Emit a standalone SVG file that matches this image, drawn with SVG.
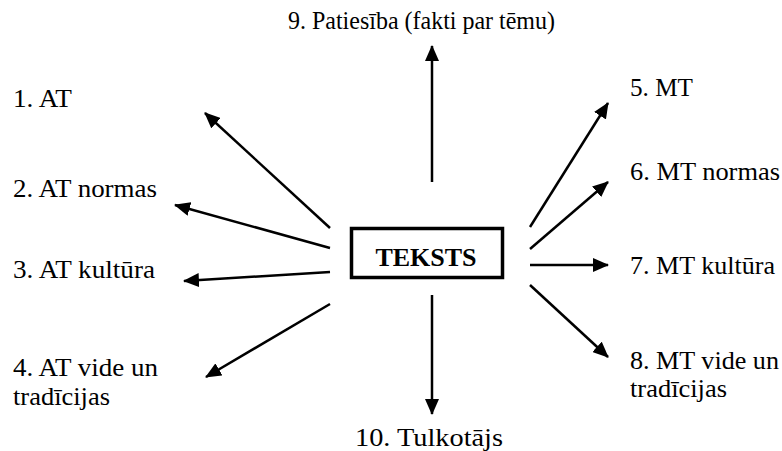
<svg xmlns="http://www.w3.org/2000/svg" width="782" height="451" viewBox="0 0 782 451">
<defs>
<marker id="ah" viewBox="0 0 16 14" refX="15" refY="7" markerWidth="16" markerHeight="14" markerUnits="userSpaceOnUse" orient="auto">
<path d="M0,0 L16,7 L0,14 Z" fill="#000"/>
</marker>
<style>
text{font-family:'Liberation Serif','Times New Roman',Tinos,'DejaVu Serif',serif;fill:#000}
.lbl{font-size:25px}
.main{font-size:26px;font-weight:bold}
.c{stroke:#000;stroke-width:2.5;fill:none;marker-end:url(#ah)}
</style>
</defs>
<rect width="782" height="451" fill="#fff"/>
<g id="center">
<rect x="351.5" y="228.5" width="151" height="49" fill="none" stroke="#000" stroke-width="3.5"/>
<text class="main" x="426" y="266" text-anchor="middle" font-family="Liberation Serif">TEKSTS</text>
</g>
<g id="n1"><text class="lbl" x="13" y="106.5" textLength="59" lengthAdjust="spacingAndGlyphs" font-family="Liberation Serif">1. AT</text></g>
<g id="n2"><text class="lbl" x="13" y="197" textLength="144" lengthAdjust="spacingAndGlyphs" font-family="Liberation Serif">2. AT normas</text></g>
<g id="n3"><text class="lbl" x="13" y="277.5" textLength="142" lengthAdjust="spacingAndGlyphs" font-family="Liberation Serif">3. AT kultūra</text></g>
<g id="n4"><text class="lbl" x="13" y="376" textLength="145" lengthAdjust="spacingAndGlyphs" font-family="Liberation Serif">4. AT vide un</text><text class="lbl" x="13" y="405" textLength="97" lengthAdjust="spacingAndGlyphs" font-family="Liberation Serif">tradīcijas</text></g>
<g id="n5"><text class="lbl" x="630" y="96" textLength="63" lengthAdjust="spacingAndGlyphs" font-family="Liberation Serif">5. MT</text></g>
<g id="n6"><text class="lbl" x="630" y="180" textLength="150" lengthAdjust="spacingAndGlyphs" font-family="Liberation Serif">6. MT normas</text></g>
<g id="n7"><text class="lbl" x="630" y="274" textLength="145" lengthAdjust="spacingAndGlyphs" font-family="Liberation Serif">7. MT kultūra</text></g>
<g id="n8"><text class="lbl" x="630" y="369" textLength="149" lengthAdjust="spacingAndGlyphs" font-family="Liberation Serif">8. MT vide un</text><text class="lbl" x="630" y="397" textLength="97" lengthAdjust="spacingAndGlyphs" font-family="Liberation Serif">tradīcijas</text></g>
<g id="n9"><text class="lbl" x="288" y="29" textLength="267" lengthAdjust="spacingAndGlyphs" font-family="Liberation Serif">9. Patiesība (fakti par tēmu)</text></g>
<g id="n10"><text class="lbl" x="355" y="446" textLength="148" lengthAdjust="spacingAndGlyphs" font-family="Liberation Serif">10. Tulkotājs</text></g>
<g id="connectors">
<line class="c" x1="432" y1="182" x2="432" y2="46"/>
<line class="c" x1="432" y1="295" x2="432" y2="414"/>
<line class="c" x1="330" y1="228" x2="205" y2="113"/>
<line class="c" x1="330" y1="248" x2="175" y2="205"/>
<line class="c" x1="330" y1="272" x2="184" y2="281"/>
<line class="c" x1="330" y1="304" x2="206" y2="377"/>
<line class="c" x1="530" y1="227" x2="608" y2="103"/>
<line class="c" x1="530" y1="249" x2="608" y2="182"/>
<line class="c" x1="530" y1="265" x2="608" y2="265"/>
<line class="c" x1="530" y1="285" x2="608" y2="357"/>
</g>
</svg>
